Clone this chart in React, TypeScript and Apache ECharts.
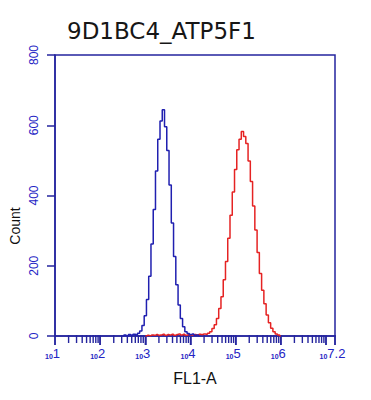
import React, { useEffect, useRef } from "react";
import * as echarts from "echarts";

const titleText = "9D1BC4_ATP5F1";
const xName = "FL1-A";
const yName = "Count";

// log10 decade positions
const xMin = 1;
const xMax = 7.2;
const majorTicks = [1, 2, 3, 4, 5, 6, 7, 7.2];
const xLabelValues = [1, 2, 3, 4, 5, 6, 7.2];
const xLabelExp = ["1", "2", "3", "4", "5", "6", "7.2"];
const yTicks = [0, 200, 400, 600, 800];

// histogram bins (log10 of FL1-A), width 0.05
const binStep = 0.05;
const blueStart = 2.5;
const blueCounts = [
  0, 3, 0, 4, 2, 5, 3, 8, 14, 30, 58, 104, 170, 262, 360, 470, 560, 612, 644,
  596, 528, 430, 322, 226, 146, 88, 50, 26, 12, 7, 4, 6, 2, 3, 0,
];
const redStart = 3.0;
const redCounts = [
  0, 2, 1, 3, 2, 4, 2, 3, 5, 2, 4, 3, 5, 2, 4, 6, 3, 5, 2, 4, 3, 2, 4, 3, 5, 4,
  6, 5, 8, 12, 21, 32, 50, 78, 112, 160, 212, 278, 344, 410, 474, 530, 560, 582,
  568, 548, 498, 440, 370, 302, 238, 178, 130, 92, 60, 38, 22, 12, 6, 3, 0,
];

const frameColor = "#25259e";
const labelColor = "#2424c4";
const blueColor = "#2020b0";
const redColor = "#e52323";

function toPairs(start: number, counts: number[]) {
  return counts.map((c, i) => [+(start + i * binStep).toFixed(3), c]);
}

const minorTicks: number[] = [];
for (let n = 1; n < 7; n++) {
  for (let k = 2; k <= 9; k++) minorTicks.push(+(n + Math.log10(k)).toFixed(4));
}
// [position, tick length]
const tickMarks = [
  ...majorTicks.map((t) => [t, 9]),
  ...minorTicks.map((t) => [t, 7]),
];

export default function App() {
  const ref = useRef<HTMLDivElement>(null);
  useEffect(() => {
    if (!ref.current) return;
    const chart = echarts.init(ref.current, null, { renderer: "svg" });
    chart.setOption({
      animation: false,
      backgroundColor: "#ffffff",
      title: {
        text: titleText,
        left: 62,
        top: 14,
        textStyle: {
          fontFamily: "DejaVu Sans",
          fontSize: 23,
          fontWeight: "normal",
          color: "#161616",
        },
      },
      grid: {
        left: 55,
        right: 36,
        top: 55,
        bottom: 64,
        show: true,
        borderColor: frameColor,
        borderWidth: 1.5,
      },
      graphic: [
        {
          type: "text",
          x: 15,
          y: 226,
          rotation: Math.PI / 2,
          style: {
            text: yName,
            fontFamily: "Liberation Sans",
            fontSize: 14,
            fill: "#111",
            align: "center",
            verticalAlign: "middle",
          },
        },
      ],
      xAxis: {
        type: "value",
        min: xMin,
        max: xMax,
        position: "bottom",
        name: xName,
        nameLocation: "middle",
        nameGap: 34,
        nameTextStyle: {
          fontFamily: "Liberation Sans",
          fontSize: 16,
          color: "#111",
        },
        axisLine: { show: true, lineStyle: { color: frameColor, width: 1.5 } },
        axisTick: {
          show: true,
          length: 9,
          customValues: majorTicks,
          lineStyle: { color: frameColor, width: 1.5 },
        },
        axisLabel: {
          customValues: xLabelValues,
          margin: 11,
          formatter: (v: number) => {
            const i = xLabelValues.indexOf(v);
            return `{s|10}{e|${i >= 0 ? xLabelExp[i] : v}}`;
          },
          rich: {
            s: {
              fontFamily: "Liberation Sans",
              fontSize: 7,
              fontWeight: "bold",
              color: labelColor,
              verticalAlign: "bottom",
              padding: [6, 0, 0, 0],
            },
            e: {
              fontFamily: "Liberation Sans",
              fontSize: 13,
              color: labelColor,
              padding: [0, 5, 0, 0],
            },
          },
        },
        splitLine: { show: false },
      },
      yAxis: {
        type: "value",
        min: 0,
        max: 800,
        interval: 200,
        axisLine: { show: true, lineStyle: { color: frameColor, width: 1.5 } },
        axisTick: {
          show: true,
          length: 8,
          lineStyle: { color: frameColor, width: 1.5 },
        },
        axisLabel: {
          rotate: 90,
          margin: 15,
          fontFamily: "Liberation Sans",
          fontSize: 12,
          color: labelColor,
          customValues: yTicks,
        },
        splitLine: { show: false },
      },
      series: [
        {
          type: "custom",
          clip: false,
          data: tickMarks,
          renderItem: (params: any, api: any) => {
            const p = api.coord([api.value(0), 0]);
            const len = api.value(1);
            return {
              type: "line",
              shape: { x1: p[0], y1: p[1] - 1, x2: p[0], y2: p[1] + len },
              style: { stroke: frameColor, lineWidth: 1.4 },
            };
          },
        },
        {
          type: "line",
          step: "middle",
          showSymbol: false,
          data: toPairs(redStart, redCounts),
          lineStyle: { color: redColor, width: 1.5 },
          itemStyle: { color: redColor },
        },
        {
          type: "line",
          step: "middle",
          showSymbol: false,
          data: toPairs(blueStart, blueCounts),
          lineStyle: { color: blueColor, width: 1.5 },
          itemStyle: { color: blueColor },
        },
      ],
    });
    return () => chart.dispose();
  }, []);
  return <div ref={ref} style={{ width: 371, height: 400, margin: -8 }} />;
}
